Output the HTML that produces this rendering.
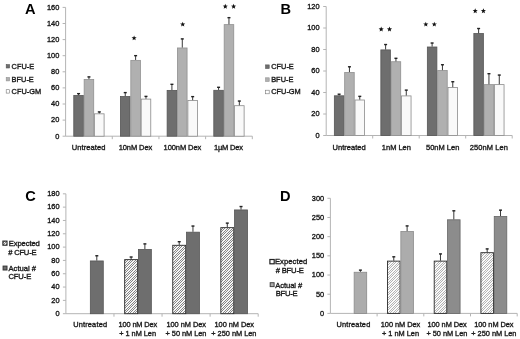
<!DOCTYPE html>
<html><head><meta charset="utf-8"><style>
html,body{margin:0;padding:0;background:#fff;}
body{width:520px;height:339px;overflow:hidden;}
svg{display:block;font-family:"Liberation Sans", sans-serif;filter:blur(0.3px);}
</style></head><body>
<svg width="520" height="339" viewBox="0 0 520 339">
<defs>
<pattern id="hatch" patternUnits="userSpaceOnUse" width="5" height="5">
<rect width="5" height="5" fill="#f6f6f6"/>
<rect x="0" y="0" width="1" height="1" fill="#858585"/><rect x="2" y="0" width="1" height="1" fill="#858585"/><rect x="1" y="1" width="1" height="1" fill="#858585"/><rect x="4" y="1" width="1" height="1" fill="#858585"/><rect x="0" y="2" width="1" height="1" fill="#858585"/><rect x="3" y="2" width="1" height="1" fill="#858585"/><rect x="2" y="3" width="1" height="1" fill="#858585"/><rect x="4" y="3" width="1" height="1" fill="#858585"/><rect x="1" y="4" width="1" height="1" fill="#858585"/><rect x="3" y="4" width="1" height="1" fill="#858585"/>
</pattern>
<pattern id="hatchD" patternUnits="userSpaceOnUse" width="5" height="5">
<rect width="5" height="5" fill="#fafafa"/>
<rect x="0" y="0" width="1" height="1" fill="#b4b4b4"/><rect x="2" y="0" width="1" height="1" fill="#b4b4b4"/><rect x="1" y="1" width="1" height="1" fill="#b4b4b4"/><rect x="4" y="1" width="1" height="1" fill="#b4b4b4"/><rect x="0" y="2" width="1" height="1" fill="#b4b4b4"/><rect x="3" y="2" width="1" height="1" fill="#b4b4b4"/><rect x="2" y="3" width="1" height="1" fill="#b4b4b4"/><rect x="4" y="3" width="1" height="1" fill="#b4b4b4"/><rect x="1" y="4" width="1" height="1" fill="#b4b4b4"/><rect x="3" y="4" width="1" height="1" fill="#b4b4b4"/>
</pattern>
</defs>
<rect width="520" height="339" fill="#fff"/>
<line x1="65.60" y1="7.40" x2="65.60" y2="136.20" stroke="#b4b4b4" stroke-width="1"/>
<line x1="62.60" y1="136.20" x2="65.60" y2="136.20" stroke="#b4b4b4" stroke-width="1"/>
<text x="59.30" y="138.50" font-size="7.4" text-anchor="end" font-weight="normal" fill="#1a1a1a" stroke="#1a1a1a" stroke-width="0.35">0</text>
<line x1="62.60" y1="120.10" x2="65.60" y2="120.10" stroke="#b4b4b4" stroke-width="1"/>
<text x="59.30" y="122.40" font-size="7.4" text-anchor="end" font-weight="normal" fill="#1a1a1a" stroke="#1a1a1a" stroke-width="0.35">20</text>
<line x1="62.60" y1="104.00" x2="65.60" y2="104.00" stroke="#b4b4b4" stroke-width="1"/>
<text x="59.30" y="106.30" font-size="7.4" text-anchor="end" font-weight="normal" fill="#1a1a1a" stroke="#1a1a1a" stroke-width="0.35">40</text>
<line x1="62.60" y1="87.90" x2="65.60" y2="87.90" stroke="#b4b4b4" stroke-width="1"/>
<text x="59.30" y="90.20" font-size="7.4" text-anchor="end" font-weight="normal" fill="#1a1a1a" stroke="#1a1a1a" stroke-width="0.35">60</text>
<line x1="62.60" y1="71.80" x2="65.60" y2="71.80" stroke="#b4b4b4" stroke-width="1"/>
<text x="59.30" y="74.10" font-size="7.4" text-anchor="end" font-weight="normal" fill="#1a1a1a" stroke="#1a1a1a" stroke-width="0.35">80</text>
<line x1="62.60" y1="55.70" x2="65.60" y2="55.70" stroke="#b4b4b4" stroke-width="1"/>
<text x="59.30" y="58.00" font-size="7.4" text-anchor="end" font-weight="normal" fill="#1a1a1a" stroke="#1a1a1a" stroke-width="0.35">100</text>
<line x1="62.60" y1="39.60" x2="65.60" y2="39.60" stroke="#b4b4b4" stroke-width="1"/>
<text x="59.30" y="41.90" font-size="7.4" text-anchor="end" font-weight="normal" fill="#1a1a1a" stroke="#1a1a1a" stroke-width="0.35">120</text>
<line x1="62.60" y1="23.50" x2="65.60" y2="23.50" stroke="#b4b4b4" stroke-width="1"/>
<text x="59.30" y="25.80" font-size="7.4" text-anchor="end" font-weight="normal" fill="#1a1a1a" stroke="#1a1a1a" stroke-width="0.35">140</text>
<line x1="62.60" y1="7.40" x2="65.60" y2="7.40" stroke="#b4b4b4" stroke-width="1"/>
<text x="59.30" y="9.70" font-size="7.4" text-anchor="end" font-weight="normal" fill="#1a1a1a" stroke="#1a1a1a" stroke-width="0.35">160</text>
<line x1="65.60" y1="136.20" x2="252.30" y2="136.20" stroke="#b4b4b4" stroke-width="1"/>
<line x1="112.28" y1="136.20" x2="112.28" y2="139.20" stroke="#b4b4b4" stroke-width="1"/>
<line x1="158.95" y1="136.20" x2="158.95" y2="139.20" stroke="#b4b4b4" stroke-width="1"/>
<line x1="205.62" y1="136.20" x2="205.62" y2="139.20" stroke="#b4b4b4" stroke-width="1"/>
<line x1="252.30" y1="136.20" x2="252.30" y2="139.20" stroke="#b4b4b4" stroke-width="1"/>
<rect x="73.78" y="95.46" width="9.57" height="40.74" fill="#6e6e6e" stroke="#555" stroke-width="0.8"/>
<line x1="78.57" y1="95.06" x2="78.57" y2="93.45" stroke="#222" stroke-width="0.9"/>
<line x1="77.07" y1="93.65" x2="80.07" y2="93.65" stroke="#222" stroke-width="1.4"/>
<rect x="84.15" y="79.44" width="9.57" height="56.76" fill="#b0b0b0" stroke="#909090" stroke-width="0.8"/>
<line x1="88.94" y1="79.04" x2="88.94" y2="76.71" stroke="#222" stroke-width="0.9"/>
<line x1="87.44" y1="76.91" x2="90.44" y2="76.91" stroke="#222" stroke-width="1.4"/>
<rect x="94.52" y="113.82" width="9.57" height="22.38" fill="#f9f9f9" stroke="#8a8a8a" stroke-width="0.8"/>
<line x1="99.31" y1="113.42" x2="99.31" y2="111.73" stroke="#222" stroke-width="0.9"/>
<line x1="97.81" y1="111.93" x2="100.81" y2="111.93" stroke="#222" stroke-width="1.4"/>
<text textLength="33.60" lengthAdjust="spacing" x="88.65" y="150.00" font-size="7.5" text-anchor="middle" font-weight="normal" fill="#1a1a1a" stroke="#1a1a1a" stroke-width="0.35">Untreated</text>
<rect x="120.45" y="96.51" width="9.57" height="39.69" fill="#6e6e6e" stroke="#555" stroke-width="0.8"/>
<line x1="125.24" y1="96.11" x2="125.24" y2="92.41" stroke="#222" stroke-width="0.9"/>
<line x1="123.74" y1="92.61" x2="126.74" y2="92.61" stroke="#222" stroke-width="1.4"/>
<rect x="130.83" y="60.37" width="9.57" height="75.83" fill="#b0b0b0" stroke="#909090" stroke-width="0.8"/>
<line x1="135.61" y1="59.97" x2="135.61" y2="55.46" stroke="#222" stroke-width="0.9"/>
<line x1="134.11" y1="55.66" x2="137.11" y2="55.66" stroke="#222" stroke-width="1.4"/>
<rect x="141.20" y="99.09" width="9.57" height="37.11" fill="#f9f9f9" stroke="#8a8a8a" stroke-width="0.8"/>
<line x1="145.98" y1="98.69" x2="145.98" y2="96.19" stroke="#222" stroke-width="0.9"/>
<line x1="144.48" y1="96.39" x2="147.48" y2="96.39" stroke="#222" stroke-width="1.4"/>
<text textLength="33.60" lengthAdjust="spacing" x="135.45" y="150.00" font-size="7.5" text-anchor="middle" font-weight="normal" fill="#1a1a1a" stroke="#1a1a1a" stroke-width="0.35">10nM Dex</text>
<polygon points="134.10,35.40 134.78,37.17 136.67,37.27 135.19,38.46 135.69,40.28 134.10,39.25 132.51,40.28 133.01,38.46 131.53,37.27 133.42,37.17" fill="#111"/>
<rect x="167.13" y="90.39" width="9.57" height="45.81" fill="#6e6e6e" stroke="#555" stroke-width="0.8"/>
<line x1="171.92" y1="89.99" x2="171.92" y2="84.12" stroke="#222" stroke-width="0.9"/>
<line x1="170.42" y1="84.32" x2="173.42" y2="84.32" stroke="#222" stroke-width="1.4"/>
<rect x="177.50" y="47.97" width="9.57" height="88.23" fill="#b0b0b0" stroke="#909090" stroke-width="0.8"/>
<line x1="182.29" y1="47.57" x2="182.29" y2="38.71" stroke="#222" stroke-width="0.9"/>
<line x1="180.79" y1="38.91" x2="183.79" y2="38.91" stroke="#222" stroke-width="1.4"/>
<rect x="187.87" y="100.54" width="9.57" height="35.66" fill="#f9f9f9" stroke="#8a8a8a" stroke-width="0.8"/>
<line x1="192.66" y1="100.14" x2="192.66" y2="96.43" stroke="#222" stroke-width="0.9"/>
<line x1="191.16" y1="96.63" x2="194.16" y2="96.63" stroke="#222" stroke-width="1.4"/>
<text textLength="37.70" lengthAdjust="spacing" x="182.40" y="150.00" font-size="7.5" text-anchor="middle" font-weight="normal" fill="#1a1a1a" stroke="#1a1a1a" stroke-width="0.35">100nM Dex</text>
<polygon points="182.70,21.70 183.38,23.47 185.27,23.57 183.79,24.76 184.29,26.58 182.70,25.55 181.11,26.58 181.61,24.76 180.13,23.57 182.02,23.47" fill="#111"/>
<rect x="213.80" y="90.31" width="9.57" height="45.89" fill="#6e6e6e" stroke="#555" stroke-width="0.8"/>
<line x1="218.59" y1="89.91" x2="218.59" y2="87.09" stroke="#222" stroke-width="0.9"/>
<line x1="217.09" y1="87.30" x2="220.09" y2="87.30" stroke="#222" stroke-width="1.4"/>
<rect x="224.18" y="24.62" width="9.57" height="111.58" fill="#b0b0b0" stroke="#909090" stroke-width="0.8"/>
<line x1="228.96" y1="24.22" x2="228.96" y2="17.46" stroke="#222" stroke-width="0.9"/>
<line x1="227.46" y1="17.66" x2="230.46" y2="17.66" stroke="#222" stroke-width="1.4"/>
<rect x="234.55" y="105.69" width="9.57" height="30.51" fill="#f9f9f9" stroke="#8a8a8a" stroke-width="0.8"/>
<line x1="239.33" y1="105.29" x2="239.33" y2="100.86" stroke="#222" stroke-width="0.9"/>
<line x1="237.83" y1="101.06" x2="240.83" y2="101.06" stroke="#222" stroke-width="1.4"/>
<text textLength="29.00" lengthAdjust="spacing" x="228.45" y="150.00" font-size="7.5" text-anchor="middle" font-weight="normal" fill="#1a1a1a" stroke="#1a1a1a" stroke-width="0.35">1µM Dex</text>
<polygon points="225.30,3.80 225.98,5.57 227.87,5.67 226.39,6.86 226.89,8.68 225.30,7.65 223.71,8.68 224.21,6.86 222.73,5.67 224.62,5.57" fill="#111"/>
<polygon points="233.60,3.80 234.28,5.57 236.17,5.67 234.69,6.86 235.19,8.68 233.60,7.65 232.01,8.68 232.51,6.86 231.03,5.67 232.92,5.57" fill="#111"/>
<text x="25.00" y="13.90" font-size="14.6" text-anchor="start" font-weight="bold" fill="#000" stroke="#000" stroke-width="0">A</text>
<rect x="6.20" y="64.60" width="3.40" height="3.40" fill="#6e6e6e" stroke="#555" stroke-width="0.6"/>
<text x="11.60" y="68.60" font-size="7.4" text-anchor="start" font-weight="normal" fill="#1a1a1a" stroke="#1a1a1a" stroke-width="0.35">CFU-E</text>
<rect x="6.20" y="77.50" width="3.40" height="3.40" fill="#b0b0b0" stroke="#909090" stroke-width="0.6"/>
<text x="11.60" y="81.60" font-size="7.4" text-anchor="start" font-weight="normal" fill="#1a1a1a" stroke="#1a1a1a" stroke-width="0.35">BFU-E</text>
<rect x="6.20" y="89.70" width="3.40" height="3.40" fill="#fff" stroke="#777" stroke-width="0.6"/>
<text x="11.60" y="93.70" font-size="7.4" text-anchor="start" font-weight="normal" fill="#1a1a1a" stroke="#1a1a1a" stroke-width="0.35">CFU-GM</text>
<line x1="326.20" y1="6.50" x2="326.20" y2="135.50" stroke="#b4b4b4" stroke-width="1"/>
<line x1="323.20" y1="135.50" x2="326.20" y2="135.50" stroke="#b4b4b4" stroke-width="1"/>
<text x="319.50" y="137.80" font-size="7.4" text-anchor="end" font-weight="normal" fill="#1a1a1a" stroke="#1a1a1a" stroke-width="0.35">0</text>
<line x1="323.20" y1="114.00" x2="326.20" y2="114.00" stroke="#b4b4b4" stroke-width="1"/>
<text x="319.50" y="116.30" font-size="7.4" text-anchor="end" font-weight="normal" fill="#1a1a1a" stroke="#1a1a1a" stroke-width="0.35">20</text>
<line x1="323.20" y1="92.50" x2="326.20" y2="92.50" stroke="#b4b4b4" stroke-width="1"/>
<text x="319.50" y="94.80" font-size="7.4" text-anchor="end" font-weight="normal" fill="#1a1a1a" stroke="#1a1a1a" stroke-width="0.35">40</text>
<line x1="323.20" y1="71.00" x2="326.20" y2="71.00" stroke="#b4b4b4" stroke-width="1"/>
<text x="319.50" y="73.30" font-size="7.4" text-anchor="end" font-weight="normal" fill="#1a1a1a" stroke="#1a1a1a" stroke-width="0.35">60</text>
<line x1="323.20" y1="49.50" x2="326.20" y2="49.50" stroke="#b4b4b4" stroke-width="1"/>
<text x="319.50" y="51.80" font-size="7.4" text-anchor="end" font-weight="normal" fill="#1a1a1a" stroke="#1a1a1a" stroke-width="0.35">80</text>
<line x1="323.20" y1="28.00" x2="326.20" y2="28.00" stroke="#b4b4b4" stroke-width="1"/>
<text x="319.50" y="30.30" font-size="7.4" text-anchor="end" font-weight="normal" fill="#1a1a1a" stroke="#1a1a1a" stroke-width="0.35">100</text>
<line x1="323.20" y1="6.50" x2="326.20" y2="6.50" stroke="#b4b4b4" stroke-width="1"/>
<text x="319.50" y="8.80" font-size="7.4" text-anchor="end" font-weight="normal" fill="#1a1a1a" stroke="#1a1a1a" stroke-width="0.35">120</text>
<line x1="326.20" y1="135.50" x2="512.20" y2="135.50" stroke="#b4b4b4" stroke-width="1"/>
<line x1="372.70" y1="135.50" x2="372.70" y2="138.50" stroke="#b4b4b4" stroke-width="1"/>
<line x1="419.20" y1="135.50" x2="419.20" y2="138.50" stroke="#b4b4b4" stroke-width="1"/>
<line x1="465.70" y1="135.50" x2="465.70" y2="138.50" stroke="#b4b4b4" stroke-width="1"/>
<line x1="512.20" y1="135.50" x2="512.20" y2="138.50" stroke="#b4b4b4" stroke-width="1"/>
<rect x="334.35" y="95.80" width="9.53" height="39.70" fill="#6e6e6e" stroke="#555" stroke-width="0.8"/>
<line x1="339.12" y1="95.40" x2="339.12" y2="94.01" stroke="#222" stroke-width="0.9"/>
<line x1="337.62" y1="94.21" x2="340.62" y2="94.21" stroke="#222" stroke-width="1.4"/>
<rect x="344.68" y="72.48" width="9.53" height="63.02" fill="#b0b0b0" stroke="#909090" stroke-width="0.8"/>
<line x1="349.45" y1="72.08" x2="349.45" y2="66.59" stroke="#222" stroke-width="0.9"/>
<line x1="347.95" y1="66.79" x2="350.95" y2="66.79" stroke="#222" stroke-width="1.4"/>
<rect x="355.02" y="100.00" width="9.53" height="35.50" fill="#f9f9f9" stroke="#8a8a8a" stroke-width="0.8"/>
<line x1="359.78" y1="99.59" x2="359.78" y2="96.16" stroke="#222" stroke-width="0.9"/>
<line x1="358.28" y1="96.36" x2="361.28" y2="96.36" stroke="#222" stroke-width="1.4"/>
<text textLength="33.30" lengthAdjust="spacing" x="349.10" y="150.20" font-size="7.5" text-anchor="middle" font-weight="normal" fill="#1a1a1a" stroke="#1a1a1a" stroke-width="0.35">Untreated</text>
<rect x="380.85" y="49.90" width="9.53" height="85.60" fill="#6e6e6e" stroke="#555" stroke-width="0.8"/>
<line x1="385.62" y1="49.50" x2="385.62" y2="44.34" stroke="#222" stroke-width="0.9"/>
<line x1="384.12" y1="44.54" x2="387.12" y2="44.54" stroke="#222" stroke-width="1.4"/>
<rect x="391.18" y="61.73" width="9.53" height="73.77" fill="#b0b0b0" stroke="#909090" stroke-width="0.8"/>
<line x1="395.95" y1="61.33" x2="395.95" y2="58.10" stroke="#222" stroke-width="0.9"/>
<line x1="394.45" y1="58.30" x2="397.45" y2="58.30" stroke="#222" stroke-width="1.4"/>
<rect x="401.52" y="95.91" width="9.53" height="39.59" fill="#f9f9f9" stroke="#8a8a8a" stroke-width="0.8"/>
<line x1="406.28" y1="95.51" x2="406.28" y2="89.92" stroke="#222" stroke-width="0.9"/>
<line x1="404.78" y1="90.12" x2="407.78" y2="90.12" stroke="#222" stroke-width="1.4"/>
<text textLength="29.10" lengthAdjust="spacing" x="396.40" y="150.20" font-size="7.5" text-anchor="middle" font-weight="normal" fill="#1a1a1a" stroke="#1a1a1a" stroke-width="0.35">1nM Len</text>
<polygon points="381.20,26.60 381.88,28.37 383.77,28.47 382.29,29.66 382.79,31.48 381.20,30.45 379.61,31.48 380.11,29.66 378.63,28.47 380.52,28.37" fill="#111"/>
<polygon points="389.50,26.60 390.18,28.37 392.07,28.47 390.59,29.66 391.09,31.48 389.50,30.45 387.91,31.48 388.41,29.66 386.93,28.47 388.82,28.37" fill="#111"/>
<rect x="427.35" y="47.00" width="9.53" height="88.50" fill="#6e6e6e" stroke="#555" stroke-width="0.8"/>
<line x1="432.12" y1="46.60" x2="432.12" y2="42.83" stroke="#222" stroke-width="0.9"/>
<line x1="430.62" y1="43.03" x2="433.62" y2="43.03" stroke="#222" stroke-width="1.4"/>
<rect x="437.68" y="70.54" width="9.53" height="64.96" fill="#b0b0b0" stroke="#909090" stroke-width="0.8"/>
<line x1="442.45" y1="70.14" x2="442.45" y2="64.55" stroke="#222" stroke-width="0.9"/>
<line x1="440.95" y1="64.75" x2="443.95" y2="64.75" stroke="#222" stroke-width="1.4"/>
<rect x="448.02" y="87.53" width="9.53" height="47.98" fill="#f9f9f9" stroke="#8a8a8a" stroke-width="0.8"/>
<line x1="452.78" y1="87.12" x2="452.78" y2="81.53" stroke="#222" stroke-width="0.9"/>
<line x1="451.28" y1="81.73" x2="454.28" y2="81.73" stroke="#222" stroke-width="1.4"/>
<text textLength="33.40" lengthAdjust="spacing" x="442.65" y="150.20" font-size="7.5" text-anchor="middle" font-weight="normal" fill="#1a1a1a" stroke="#1a1a1a" stroke-width="0.35">50nM Len</text>
<polygon points="425.80,21.70 426.48,23.47 428.37,23.57 426.89,24.76 427.39,26.58 425.80,25.55 424.21,26.58 424.71,24.76 423.23,23.57 425.12,23.47" fill="#111"/>
<polygon points="434.30,21.70 434.98,23.47 436.87,23.57 435.39,24.76 435.89,26.58 434.30,25.55 432.71,26.58 433.21,24.76 431.73,23.57 433.62,23.47" fill="#111"/>
<rect x="473.85" y="33.56" width="9.53" height="101.94" fill="#6e6e6e" stroke="#555" stroke-width="0.8"/>
<line x1="478.62" y1="33.16" x2="478.62" y2="28.32" stroke="#222" stroke-width="0.9"/>
<line x1="477.12" y1="28.52" x2="480.12" y2="28.52" stroke="#222" stroke-width="1.4"/>
<rect x="484.18" y="84.62" width="9.53" height="50.88" fill="#b0b0b0" stroke="#909090" stroke-width="0.8"/>
<line x1="488.95" y1="84.22" x2="488.95" y2="73.47" stroke="#222" stroke-width="0.9"/>
<line x1="487.45" y1="73.67" x2="490.45" y2="73.67" stroke="#222" stroke-width="1.4"/>
<rect x="494.52" y="84.62" width="9.53" height="50.88" fill="#f9f9f9" stroke="#8a8a8a" stroke-width="0.8"/>
<line x1="499.28" y1="84.22" x2="499.28" y2="74.87" stroke="#222" stroke-width="0.9"/>
<line x1="497.78" y1="75.07" x2="500.78" y2="75.07" stroke="#222" stroke-width="1.4"/>
<text textLength="38.20" lengthAdjust="spacing" x="488.85" y="150.20" font-size="7.5" text-anchor="middle" font-weight="normal" fill="#1a1a1a" stroke="#1a1a1a" stroke-width="0.35">250nM Len</text>
<polygon points="475.20,8.30 475.88,10.07 477.77,10.17 476.29,11.36 476.79,13.18 475.20,12.15 473.61,13.18 474.11,11.36 472.63,10.17 474.52,10.07" fill="#111"/>
<polygon points="483.40,8.30 484.08,10.07 485.97,10.17 484.49,11.36 484.99,13.18 483.40,12.15 481.81,13.18 482.31,11.36 480.83,10.17 482.72,10.07" fill="#111"/>
<text x="280.40" y="13.90" font-size="14.6" text-anchor="start" font-weight="bold" fill="#000" stroke="#000" stroke-width="0">B</text>
<rect x="265.60" y="64.90" width="3.60" height="3.60" fill="#6e6e6e" stroke="#555" stroke-width="0.6"/>
<text x="271.20" y="69.20" font-size="7.4" text-anchor="start" font-weight="normal" fill="#1a1a1a" stroke="#1a1a1a" stroke-width="0.35">CFU-E</text>
<rect x="265.60" y="77.80" width="3.60" height="3.60" fill="#b0b0b0" stroke="#909090" stroke-width="0.6"/>
<text x="271.20" y="82.10" font-size="7.4" text-anchor="start" font-weight="normal" fill="#1a1a1a" stroke="#1a1a1a" stroke-width="0.35">BFU-E</text>
<rect x="265.60" y="90.20" width="3.60" height="3.60" fill="#fff" stroke="#777" stroke-width="0.6"/>
<text x="271.20" y="94.30" font-size="7.4" text-anchor="start" font-weight="normal" fill="#1a1a1a" stroke="#1a1a1a" stroke-width="0.35">CFU-GM</text>
<line x1="65.90" y1="193.82" x2="65.90" y2="313.70" stroke="#b4b4b4" stroke-width="1"/>
<line x1="62.90" y1="313.70" x2="65.90" y2="313.70" stroke="#b4b4b4" stroke-width="1"/>
<text x="59.60" y="316.00" font-size="7.4" text-anchor="end" font-weight="normal" fill="#1a1a1a" stroke="#1a1a1a" stroke-width="0.35">0</text>
<line x1="62.90" y1="300.38" x2="65.90" y2="300.38" stroke="#b4b4b4" stroke-width="1"/>
<text x="59.60" y="302.68" font-size="7.4" text-anchor="end" font-weight="normal" fill="#1a1a1a" stroke="#1a1a1a" stroke-width="0.35">20</text>
<line x1="62.90" y1="287.06" x2="65.90" y2="287.06" stroke="#b4b4b4" stroke-width="1"/>
<text x="59.60" y="289.36" font-size="7.4" text-anchor="end" font-weight="normal" fill="#1a1a1a" stroke="#1a1a1a" stroke-width="0.35">40</text>
<line x1="62.90" y1="273.74" x2="65.90" y2="273.74" stroke="#b4b4b4" stroke-width="1"/>
<text x="59.60" y="276.04" font-size="7.4" text-anchor="end" font-weight="normal" fill="#1a1a1a" stroke="#1a1a1a" stroke-width="0.35">60</text>
<line x1="62.90" y1="260.42" x2="65.90" y2="260.42" stroke="#b4b4b4" stroke-width="1"/>
<text x="59.60" y="262.72" font-size="7.4" text-anchor="end" font-weight="normal" fill="#1a1a1a" stroke="#1a1a1a" stroke-width="0.35">80</text>
<line x1="62.90" y1="247.10" x2="65.90" y2="247.10" stroke="#b4b4b4" stroke-width="1"/>
<text x="59.60" y="249.40" font-size="7.4" text-anchor="end" font-weight="normal" fill="#1a1a1a" stroke="#1a1a1a" stroke-width="0.35">100</text>
<line x1="62.90" y1="233.78" x2="65.90" y2="233.78" stroke="#b4b4b4" stroke-width="1"/>
<text x="59.60" y="236.08" font-size="7.4" text-anchor="end" font-weight="normal" fill="#1a1a1a" stroke="#1a1a1a" stroke-width="0.35">120</text>
<line x1="62.90" y1="220.46" x2="65.90" y2="220.46" stroke="#b4b4b4" stroke-width="1"/>
<text x="59.60" y="222.76" font-size="7.4" text-anchor="end" font-weight="normal" fill="#1a1a1a" stroke="#1a1a1a" stroke-width="0.35">140</text>
<line x1="62.90" y1="207.14" x2="65.90" y2="207.14" stroke="#b4b4b4" stroke-width="1"/>
<text x="59.60" y="209.44" font-size="7.4" text-anchor="end" font-weight="normal" fill="#1a1a1a" stroke="#1a1a1a" stroke-width="0.35">160</text>
<line x1="62.90" y1="193.82" x2="65.90" y2="193.82" stroke="#b4b4b4" stroke-width="1"/>
<text x="59.60" y="196.12" font-size="7.4" text-anchor="end" font-weight="normal" fill="#1a1a1a" stroke="#1a1a1a" stroke-width="0.35">180</text>
<line x1="65.90" y1="313.70" x2="258.20" y2="313.70" stroke="#b4b4b4" stroke-width="1"/>
<line x1="113.97" y1="313.70" x2="113.97" y2="316.70" stroke="#b4b4b4" stroke-width="1"/>
<line x1="162.05" y1="313.70" x2="162.05" y2="316.70" stroke="#b4b4b4" stroke-width="1"/>
<line x1="210.12" y1="313.70" x2="210.12" y2="316.70" stroke="#b4b4b4" stroke-width="1"/>
<line x1="258.20" y1="313.70" x2="258.20" y2="316.70" stroke="#b4b4b4" stroke-width="1"/>
<rect x="90.34" y="260.95" width="12.94" height="52.75" fill="#6e6e6e" stroke="#555" stroke-width="0.8"/>
<line x1="96.81" y1="260.55" x2="96.81" y2="255.56" stroke="#222" stroke-width="0.9"/>
<line x1="95.31" y1="255.76" x2="98.31" y2="255.76" stroke="#222" stroke-width="1.4"/>
<text textLength="33.90" lengthAdjust="spacing" x="90.10" y="327.20" font-size="7.4" text-anchor="middle" font-weight="normal" fill="#1a1a1a" stroke="#1a1a1a" stroke-width="0.35">Untreated</text>
<rect x="124.68" y="259.62" width="12.94" height="54.08" fill="url(#hatch)" stroke="#2a2a2a" stroke-width="0.9"/>
<line x1="131.14" y1="259.22" x2="131.14" y2="256.82" stroke="#222" stroke-width="0.9"/>
<line x1="129.64" y1="257.02" x2="132.64" y2="257.02" stroke="#222" stroke-width="1.4"/>
<rect x="138.41" y="249.43" width="12.94" height="64.27" fill="#6e6e6e" stroke="#555" stroke-width="0.8"/>
<line x1="144.88" y1="249.03" x2="144.88" y2="243.70" stroke="#222" stroke-width="0.9"/>
<line x1="143.38" y1="243.90" x2="146.38" y2="243.90" stroke="#222" stroke-width="1.4"/>
<text textLength="38.60" lengthAdjust="spacing" x="137.85" y="327.20" font-size="7.4" text-anchor="middle" font-weight="normal" fill="#1a1a1a" stroke="#1a1a1a" stroke-width="0.35">100 nM Dex</text>
<text textLength="36.80" lengthAdjust="spacing" x="137.65" y="335.80" font-size="7.4" text-anchor="middle" font-weight="normal" fill="#1a1a1a" stroke="#1a1a1a" stroke-width="0.35">+ 1 nM Len</text>
<rect x="172.75" y="245.30" width="12.94" height="68.40" fill="url(#hatch)" stroke="#2a2a2a" stroke-width="0.9"/>
<line x1="179.22" y1="244.90" x2="179.22" y2="241.51" stroke="#222" stroke-width="0.9"/>
<line x1="177.72" y1="241.71" x2="180.72" y2="241.71" stroke="#222" stroke-width="1.4"/>
<rect x="186.49" y="232.18" width="12.94" height="81.52" fill="#6e6e6e" stroke="#555" stroke-width="0.8"/>
<line x1="192.96" y1="231.78" x2="192.96" y2="225.85" stroke="#222" stroke-width="0.9"/>
<line x1="191.46" y1="226.05" x2="194.46" y2="226.05" stroke="#222" stroke-width="1.4"/>
<text textLength="39.60" lengthAdjust="spacing" x="186.25" y="327.20" font-size="7.4" text-anchor="middle" font-weight="normal" fill="#1a1a1a" stroke="#1a1a1a" stroke-width="0.35">100 nM Dex</text>
<text textLength="40.90" lengthAdjust="spacing" x="186.00" y="335.80" font-size="7.4" text-anchor="middle" font-weight="normal" fill="#1a1a1a" stroke="#1a1a1a" stroke-width="0.35">+ 50 nM Len</text>
<rect x="220.83" y="227.65" width="12.94" height="86.05" fill="url(#hatch)" stroke="#2a2a2a" stroke-width="0.9"/>
<line x1="227.29" y1="227.25" x2="227.29" y2="222.92" stroke="#222" stroke-width="0.9"/>
<line x1="225.79" y1="223.12" x2="228.79" y2="223.12" stroke="#222" stroke-width="1.4"/>
<rect x="234.56" y="209.94" width="12.94" height="103.76" fill="#6e6e6e" stroke="#555" stroke-width="0.8"/>
<line x1="241.03" y1="209.54" x2="241.03" y2="206.34" stroke="#222" stroke-width="0.9"/>
<line x1="239.53" y1="206.54" x2="242.53" y2="206.54" stroke="#222" stroke-width="1.4"/>
<text textLength="39.50" lengthAdjust="spacing" x="234.30" y="327.20" font-size="7.4" text-anchor="middle" font-weight="normal" fill="#1a1a1a" stroke="#1a1a1a" stroke-width="0.35">100 nM Dex</text>
<text textLength="45.20" lengthAdjust="spacing" x="233.85" y="335.80" font-size="7.4" text-anchor="middle" font-weight="normal" fill="#1a1a1a" stroke="#1a1a1a" stroke-width="0.35">+ 250 nM Len</text>
<text x="25.30" y="200.90" font-size="14.6" text-anchor="start" font-weight="bold" fill="#000" stroke="#000" stroke-width="0">C</text>
<rect x="2.90" y="241.10" width="4.10" height="4.10" fill="url(#hatch)" stroke="#222" stroke-width="1.1"/>
<text textLength="31.20" lengthAdjust="spacing" x="8.65" y="245.90" font-size="7.65" text-anchor="start" font-weight="normal" fill="#1a1a1a" stroke="#1a1a1a" stroke-width="0.35">Expected</text>
<text textLength="28.30" lengthAdjust="spacing" x="8.25" y="254.60" font-size="7.65" text-anchor="start" font-weight="normal" fill="#1a1a1a" stroke="#1a1a1a" stroke-width="0.35"># CFU-E</text>
<rect x="3.10" y="266.10" width="3.90" height="3.90" fill="#6e6e6e" stroke="#333" stroke-width="1.0"/>
<text textLength="27.60" lengthAdjust="spacing" x="8.45" y="270.70" font-size="7.65" text-anchor="start" font-weight="normal" fill="#1a1a1a" stroke="#1a1a1a" stroke-width="0.35">Actual #</text>
<text textLength="22.80" lengthAdjust="spacing" x="8.45" y="279.40" font-size="7.65" text-anchor="start" font-weight="normal" fill="#1a1a1a" stroke="#1a1a1a" stroke-width="0.35">CFU-E</text>
<line x1="330.40" y1="198.29" x2="330.40" y2="313.40" stroke="#b4b4b4" stroke-width="1"/>
<line x1="327.40" y1="313.40" x2="330.40" y2="313.40" stroke="#b4b4b4" stroke-width="1"/>
<text x="324.20" y="315.70" font-size="7.4" text-anchor="end" font-weight="normal" fill="#1a1a1a" stroke="#1a1a1a" stroke-width="0.35">0</text>
<line x1="327.40" y1="294.21" x2="330.40" y2="294.21" stroke="#b4b4b4" stroke-width="1"/>
<text x="324.20" y="296.51" font-size="7.4" text-anchor="end" font-weight="normal" fill="#1a1a1a" stroke="#1a1a1a" stroke-width="0.35">50</text>
<line x1="327.40" y1="275.03" x2="330.40" y2="275.03" stroke="#b4b4b4" stroke-width="1"/>
<text x="324.20" y="277.33" font-size="7.4" text-anchor="end" font-weight="normal" fill="#1a1a1a" stroke="#1a1a1a" stroke-width="0.35">100</text>
<line x1="327.40" y1="255.84" x2="330.40" y2="255.84" stroke="#b4b4b4" stroke-width="1"/>
<text x="324.20" y="258.14" font-size="7.4" text-anchor="end" font-weight="normal" fill="#1a1a1a" stroke="#1a1a1a" stroke-width="0.35">150</text>
<line x1="327.40" y1="236.66" x2="330.40" y2="236.66" stroke="#b4b4b4" stroke-width="1"/>
<text x="324.20" y="238.96" font-size="7.4" text-anchor="end" font-weight="normal" fill="#1a1a1a" stroke="#1a1a1a" stroke-width="0.35">200</text>
<line x1="327.40" y1="217.47" x2="330.40" y2="217.47" stroke="#b4b4b4" stroke-width="1"/>
<text x="324.20" y="219.77" font-size="7.4" text-anchor="end" font-weight="normal" fill="#1a1a1a" stroke="#1a1a1a" stroke-width="0.35">250</text>
<line x1="327.40" y1="198.29" x2="330.40" y2="198.29" stroke="#b4b4b4" stroke-width="1"/>
<text x="324.20" y="200.59" font-size="7.4" text-anchor="end" font-weight="normal" fill="#1a1a1a" stroke="#1a1a1a" stroke-width="0.35">300</text>
<line x1="330.40" y1="313.40" x2="517.20" y2="313.40" stroke="#b4b4b4" stroke-width="1"/>
<line x1="377.10" y1="313.40" x2="377.10" y2="316.40" stroke="#b4b4b4" stroke-width="1"/>
<line x1="423.80" y1="313.40" x2="423.80" y2="316.40" stroke="#b4b4b4" stroke-width="1"/>
<line x1="470.50" y1="313.40" x2="470.50" y2="316.40" stroke="#b4b4b4" stroke-width="1"/>
<line x1="517.20" y1="313.40" x2="517.20" y2="316.40" stroke="#b4b4b4" stroke-width="1"/>
<rect x="354.15" y="272.25" width="12.54" height="41.15" fill="#acacac" stroke="#8a8a8a" stroke-width="0.8"/>
<line x1="360.42" y1="271.85" x2="360.42" y2="269.93" stroke="#222" stroke-width="0.9"/>
<line x1="358.92" y1="270.13" x2="361.92" y2="270.13" stroke="#222" stroke-width="1.4"/>
<text textLength="33.80" lengthAdjust="spacing" x="353.35" y="327.20" font-size="7.4" text-anchor="middle" font-weight="normal" fill="#1a1a1a" stroke="#1a1a1a" stroke-width="0.35">Untreated</text>
<rect x="387.51" y="261.12" width="12.54" height="52.28" fill="url(#hatchD)" stroke="#2a2a2a" stroke-width="0.9"/>
<line x1="393.78" y1="260.72" x2="393.78" y2="256.61" stroke="#222" stroke-width="0.9"/>
<line x1="392.28" y1="256.81" x2="395.28" y2="256.81" stroke="#222" stroke-width="1.4"/>
<rect x="400.85" y="231.50" width="12.54" height="81.90" fill="#acacac" stroke="#8a8a8a" stroke-width="0.8"/>
<line x1="407.12" y1="231.10" x2="407.12" y2="225.72" stroke="#222" stroke-width="0.9"/>
<line x1="405.62" y1="225.92" x2="408.62" y2="225.92" stroke="#222" stroke-width="1.4"/>
<text textLength="39.50" lengthAdjust="spacing" x="400.50" y="327.20" font-size="7.4" text-anchor="middle" font-weight="normal" fill="#1a1a1a" stroke="#1a1a1a" stroke-width="0.35">100 nM Dex</text>
<text textLength="37.00" lengthAdjust="spacing" x="400.55" y="335.80" font-size="7.4" text-anchor="middle" font-weight="normal" fill="#1a1a1a" stroke="#1a1a1a" stroke-width="0.35">+ 1 nM Len</text>
<rect x="434.21" y="261.12" width="12.54" height="52.28" fill="url(#hatchD)" stroke="#2a2a2a" stroke-width="0.9"/>
<line x1="440.48" y1="260.72" x2="440.48" y2="253.73" stroke="#222" stroke-width="0.9"/>
<line x1="438.98" y1="253.93" x2="441.98" y2="253.93" stroke="#222" stroke-width="1.4"/>
<rect x="447.55" y="219.79" width="12.54" height="93.61" fill="#8c8c8c" stroke="#666" stroke-width="0.8"/>
<line x1="453.82" y1="219.39" x2="453.82" y2="210.61" stroke="#222" stroke-width="0.9"/>
<line x1="452.32" y1="210.81" x2="455.32" y2="210.81" stroke="#222" stroke-width="1.4"/>
<text textLength="39.30" lengthAdjust="spacing" x="447.10" y="327.20" font-size="7.4" text-anchor="middle" font-weight="normal" fill="#1a1a1a" stroke="#1a1a1a" stroke-width="0.35">100 nM Dex</text>
<text textLength="40.90" lengthAdjust="spacing" x="446.90" y="335.80" font-size="7.4" text-anchor="middle" font-weight="normal" fill="#1a1a1a" stroke="#1a1a1a" stroke-width="0.35">+ 50 nM Len</text>
<rect x="480.91" y="252.68" width="12.54" height="60.72" fill="url(#hatchD)" stroke="#2a2a2a" stroke-width="0.9"/>
<line x1="487.18" y1="252.28" x2="487.18" y2="248.71" stroke="#222" stroke-width="0.9"/>
<line x1="485.68" y1="248.91" x2="488.68" y2="248.91" stroke="#222" stroke-width="1.4"/>
<rect x="494.25" y="216.49" width="12.54" height="96.91" fill="#8c8c8c" stroke="#666" stroke-width="0.8"/>
<line x1="500.52" y1="216.09" x2="500.52" y2="209.95" stroke="#222" stroke-width="0.9"/>
<line x1="499.02" y1="210.15" x2="502.02" y2="210.15" stroke="#222" stroke-width="1.4"/>
<text textLength="39.40" lengthAdjust="spacing" x="493.85" y="327.20" font-size="7.4" text-anchor="middle" font-weight="normal" fill="#1a1a1a" stroke="#1a1a1a" stroke-width="0.35">100 nM Dex</text>
<text textLength="45.20" lengthAdjust="spacing" x="493.85" y="335.80" font-size="7.4" text-anchor="middle" font-weight="normal" fill="#1a1a1a" stroke="#1a1a1a" stroke-width="0.35">+ 250 nM Len</text>
<text x="280.10" y="200.90" font-size="14.6" text-anchor="start" font-weight="bold" fill="#000" stroke="#000" stroke-width="0">D</text>
<rect x="269.90" y="259.50" width="4.30" height="4.30" fill="#fff" stroke="#222" stroke-width="1.2"/>
<text textLength="32.30" lengthAdjust="spacing" x="274.95" y="264.30" font-size="7.65" text-anchor="start" font-weight="normal" fill="#1a1a1a" stroke="#1a1a1a" stroke-width="0.35">Expected</text>
<text textLength="28.20" lengthAdjust="spacing" x="275.65" y="273.00" font-size="7.65" text-anchor="start" font-weight="normal" fill="#1a1a1a" stroke="#1a1a1a" stroke-width="0.35"># BFU-E</text>
<rect x="270.20" y="282.70" width="3.90" height="3.90" fill="#acacac" stroke="#444" stroke-width="1.0"/>
<text textLength="26.90" lengthAdjust="spacing" x="275.25" y="287.60" font-size="7.65" text-anchor="start" font-weight="normal" fill="#1a1a1a" stroke="#1a1a1a" stroke-width="0.35">Actual #</text>
<text textLength="21.90" lengthAdjust="spacing" x="275.75" y="296.30" font-size="7.65" text-anchor="start" font-weight="normal" fill="#1a1a1a" stroke="#1a1a1a" stroke-width="0.35">BFU-E</text>
</svg>
</body></html>
